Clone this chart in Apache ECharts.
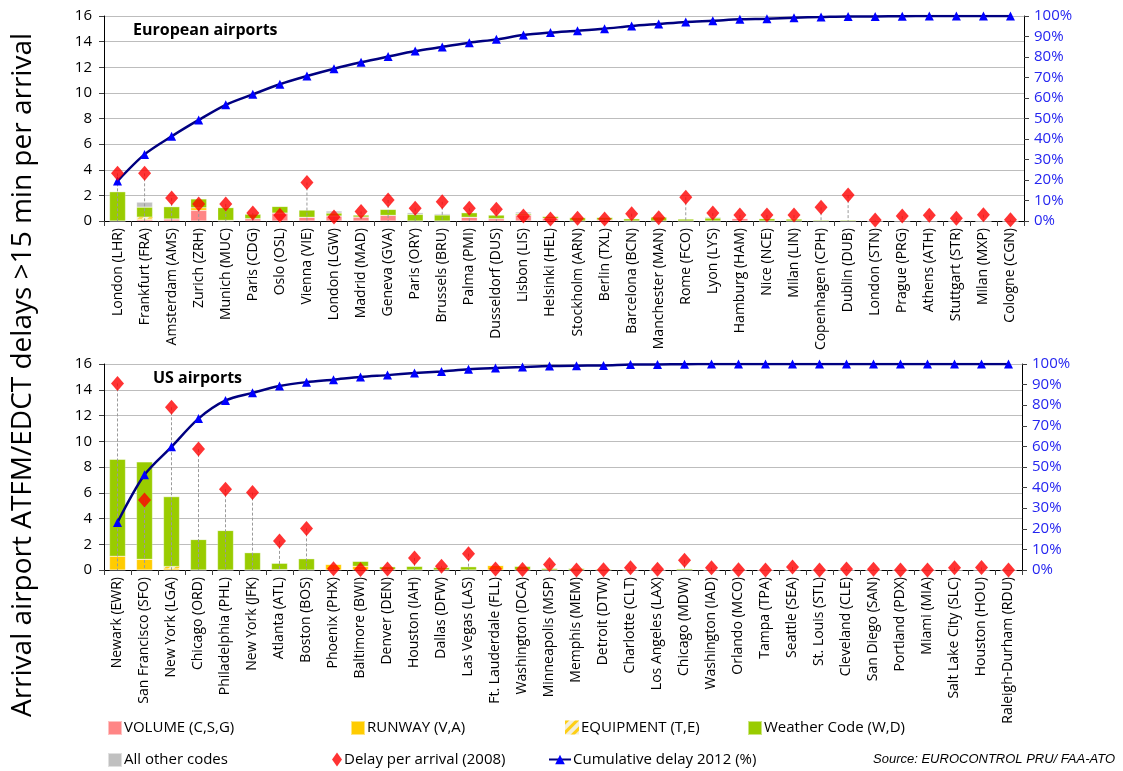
<!DOCTYPE html>
<html>
<head>
<meta charset="utf-8">
<script src="https://cdn.jsdelivr.net/npm/echarts@6/dist/echarts.min.js"></script>
<style>html,body{margin:0;padding:0;background:#fff}#c{width:1123px;height:771px}</style>
</head>
<body>
<div id="c"></div>
<script>
// ---------- DATA ----------
const euAirports = ['London (LHR)','Frankfurt (FRA)','Amsterdam (AMS)','Zurich (ZRH)','Munich (MUC)','Paris (CDG)','Oslo (OSL)','Vienna (VIE)','London (LGW)','Madrid (MAD)','Geneva (GVA)','Paris (ORY)','Brussels (BRU)','Palma (PMI)','Dusseldorf (DUS)','Lisbon (LIS)','Helsinki (HEL)','Stockholm (ARN)','Berlin (TXL)','Barcelona (BCN)','Manchester (MAN)','Rome (FCO)','Lyon (LYS)','Hamburg (HAM)','Nice (NCE)','Milan (LIN)','Copenhagen (CPH)','Dublin (DUB)','London (STN)','Prague (PRG)','Athens (ATH)','Stuttgart (STR)','Milan (MXP)','Cologne (CGN)'];
const euVolume    = [0,0.1,0.16,0.83,0,0.18,0.62,0.29,0.39,0.31,0.44,0,0,0.29,0.18,0.47,0.2,0,0.08,0,0,0,0,0.2,0,0,0,0,0,0,0,0,0,0];
const euRunway    = [0,0.08,0,0.2,0.05,0,0,0,0,0,0,0,0,0,0,0,0,0,0,0,0,0,0,0,0,0,0,0,0,0,0,0,0,0];
const euEquipment = [0,0.12,0,0,0,0,0,0,0,0,0,0,0,0,0,0,0,0,0,0,0,0,0,0,0,0,0,0,0,0,0,0,0,0];
const euWeather   = [2.29,0.78,0.96,0.7,1.0,0.36,0.52,0.57,0.23,0.16,0.47,0.52,0.47,0.36,0.29,0.1,0.16,0.27,0.2,0.18,0.31,0.16,0.23,0.03,0.18,0.16,0.08,0.08,0.02,0.02,0.02,0,0,0];
const euOther     = [0,0.39,0,0,0,0,0,0,0.16,0,0,0.13,0.1,0,0,0.13,0.03,0.03,0.03,0,0.02,0,0.08,0,0.05,0,0,0,0,0,0,0,0,0];
const euDelay2008 = [3.72,3.72,1.8,1.33,1.33,0.63,0.44,3.0,0.31,0.75,1.64,0.99,1.5,0.99,0.91,0.39,0.16,0.21,0.16,0.57,0.26,1.85,0.62,0.47,0.47,0.47,1.07,2.02,0.08,0.39,0.44,0.21,0.49,0.1];
const euCumul2012 = [19.5,32.5,41.3,49.3,56.7,61.8,66.7,70.7,74.3,77.4,80.2,82.9,84.9,87.0,88.6,90.7,91.9,92.8,93.8,95.1,96.1,97.1,97.7,98.4,98.7,99.2,99.5,99.8,99.8,99.9,100,100,100,100];

const usAirports = ['Newark (EWR)','San Francisco (SFO)','New York (LGA)','Chicago (ORD)','Philadelphia (PHL)','New York (JFK)','Atlanta (ATL)','Boston (BOS)','Phoenix (PHX)','Baltimore (BWI)','Denver (DEN)','Houston (IAH)','Dallas (DFW)','Las Vegas (LAS)','Ft. Lauderdale (FLL)','Washington (DCA)','Minneapolis (MSP)','Memphis (MEM)','Detroit (DTW)','Charlotte (CLT)','Los Angeles (LAX)','Chicago (MDW)','Washington (IAD)','Orlando (MCO)','Tampa (TPA)','Seattle (SEA)','St. Louis (STL)','Cleveland (CLE)','San Diego (SAN)','Portland (PDX)','Miami (MIA)','Salt Lake City (SLC)','Houston (HOU)','Raleigh-Durham (RDU)'];
const usVolume    = [0,0,0,0,0,0,0,0,0,0,0,0,0,0,0,0,0,0,0,0,0,0,0,0,0,0,0,0,0,0,0,0,0,0];
const usRunway    = [1.07,0.83,0.12,0,0,0,0.03,0,0.44,0.29,0.03,0,0,0,0.36,0,0,0,0,0,0,0,0,0,0,0,0,0,0,0,0,0,0,0];
const usEquipment = [0,0,0.15,0,0,0,0,0,0,0,0,0,0,0,0,0,0,0,0,0,0,0,0,0,0,0,0,0,0,0,0,0,0,0];
const usWeather   = [7.54,7.57,5.43,2.37,3.07,1.35,0.5,0.88,0.03,0.39,0.23,0.29,0.2,0.26,0,0.29,0.13,0.13,0.08,0.03,0.02,0.1,0.03,0.02,0,0.03,0,0,0,0,0,0,0,0];
const usOther     = [0,0,0,0,0,0,0,0,0,0,0,0,0,0,0,0,0,0,0,0,0,0,0,0,0,0,0,0,0,0,0,0,0,0];
const usDelay2008 = [14.49,5.44,12.64,9.39,6.27,6.01,2.26,3.23,0.1,0.03,0.08,0.94,0.29,1.27,0.08,0.03,0.42,0,0.02,0.18,0.05,0.75,0.18,0.02,0,0.23,0,0.08,0.05,0,0,0.18,0.2,0];
const usCumul2012 = [23.1,46.2,59.8,73.5,82.3,86.0,89.3,91.2,92.4,93.7,94.6,95.6,96.4,97.4,98.0,98.5,99.0,99.2,99.3,99.7,99.8,99.9,100,100,100,100,100,100,100,100,100,100,100,100];

const leftTicks = {min:0, max:16, interval:2};
const rightTicks = {min:0, max:100, interval:10};

// ---------- CHART ----------
const FONT = "'Liberation Sans Narrow', 'Open Sans', sans-serif";
const C = {vol:'#ff8585', run:'#ffcc00', eq:'#f2eedc', wx:'#99cc00', oth:'#c0c0c0', dia:'#ff0000', line:'#000080', tri:'#0000ff', axisBlue:'#2525f0'};
const equipDecal = {symbol:'rect', symbolSize:1, dashArrayX:[[1,0]], dashArrayY:[3,4], rotation:-Math.PI/4, color:'rgba(255,204,0,0.9)'};

const chart = echarts.init(document.getElementById('c'), null, {renderer:'canvas'});

function grids(){
  return [
    {left:104, right:99, top:16, height:205, containLabel:false},
    {left:104, right:101, top:364, height:206, containLabel:false}
  ];
}
function xAx(i, cats){
  return {type:'category', gridIndex:i, data:cats, boundaryGap:true,
    axisLine:{show:true, lineStyle:{color:'#000', width:1}},
    axisTick:{show:true, length:5, lineStyle:{color:'#404040'}},
    axisLabel:{rotate:90, fontSize:14, color:'#000', fontFamily:FONT, margin:7, interval:0},
    splitLine:{show:false}};
}
function yLeft(i){
  return Object.assign({type:'value', gridIndex:i, position:'left'}, leftTicks, {
    axisLine:{show:true, lineStyle:{color:'#000'}},
    axisTick:{show:true, length:5, lineStyle:{color:'#404040'}},
    axisLabel:{fontSize:15, color:'#000', fontFamily:FONT, margin:12},
    splitLine:{show:true, lineStyle:{color:'#bdbdbd', width:1}}});
}
function yRight(i){
  return Object.assign({type:'value', gridIndex:i, position:'right'}, rightTicks, {
    axisLine:{show:true, lineStyle:{color:'#000'}},
    axisTick:{show:true, length:5, inside:false, lineStyle:{color:'#404040'}},
    axisLabel:{fontSize:15, color:C.axisBlue, fontFamily:FONT, margin:10, formatter:'{value}%'},
    splitLine:{show:false}});
}

function barSeries(name, data, color, gi, stack, extra){
  return Object.assign({name, type:'bar', stack, xAxisIndex:gi, yAxisIndex:gi*2, data,
    barWidth:16, itemStyle:{color, borderColor:'rgba(255,255,255,0.5)', borderWidth:0.5}, z:2}, extra||{});
}
function dropSeries(data, gi){
  return {type:'custom', xAxisIndex:gi, yAxisIndex:gi*2, z:3, silent:true,
    data:data.map((v,i)=>[i,v]), encode:{x:0,y:1},
    renderItem:function(params, api){
      const t = api.coord([api.value(0), api.value(1)]);
      const b = api.coord([api.value(0), 0]);
      return {type:'line', shape:{x1:t[0], y1:t[1], x2:b[0], y2:b[1]},
        style:{stroke:'#9a9a9a', lineWidth:1, lineDash:[3,2]}};
    }};
}
function diamondSeries(data, gi){
  return {name:'Delay per arrival (2008)', type:'scatter', xAxisIndex:gi, yAxisIndex:gi*2, data,
    symbol:'diamond', symbolSize:[13,15], itemStyle:{color:C.dia}, z:5};
}
function cumSeries(data, gi){
  return {name:'Cumulative delay 2012 (%)', type:'line', xAxisIndex:gi, yAxisIndex:gi*2+1, data,
    smooth:0.3, symbol:'triangle', symbolSize:9,
    lineStyle:{color:C.line, width:2.5}, itemStyle:{color:C.tri}, z:4};
}

function allSeries(gi, vol, run, eq, wx, oth, delay, cum){
  const s = 'st'+gi;
  return [
    barSeries('VOLUME (C,S,G)', vol, C.vol, gi, s),
    barSeries('RUNWAY (V,A)', run, C.run, gi, s),
    barSeries('EQUIPMENT (T,E)', eq, C.eq, gi, s, {itemStyle:{color:C.eq, decal:equipDecal}}),
    barSeries('Weather Code (W,D)', wx, C.wx, gi, s),
    barSeries('All other codes', oth, C.oth, gi, s),
    dropSeries(delay, gi),
    cumSeries(cum, gi),
    diamondSeries(delay, gi)
  ];
}

function leg(name, left, top, icon, w, h){
  const item = icon ? {name, icon} : {name};
  return {data:[item], left, top, padding:0, itemWidth:w, itemHeight:h, itemGap:0, selectedMode:false,
    textStyle:{fontSize:15, color:'#000', fontFamily:FONT, padding:[0,0,0,-3]}};
}

const option = {
  animation:false,
  backgroundColor:'#fff',
  aria:{enabled:true, decal:{show:false}},
  title:[
    {text:'European airports', left:128, top:17, textStyle:{fontSize:16, fontWeight:'bold', color:'#000', fontFamily:"'Open Sans', sans-serif"}},
    {text:'US airports', left:148, top:365, textStyle:{fontSize:16, fontWeight:'bold', color:'#000', fontFamily:"'Open Sans', sans-serif"}}
  ],
  grid:grids(),
  xAxis:[xAx(0, euAirports), xAx(1, usAirports)],
  yAxis:[yLeft(0), yRight(0), yLeft(1), yRight(1)],
  legend:[
    leg('VOLUME (C,S,G)', 107, 720, 'rect', 14, 14),
    leg('RUNWAY (V,A)', 350, 720, 'rect', 14, 14),
    leg('EQUIPMENT (T,E)', 565, 720, 'rect', 14, 14),
    leg('Weather Code (W,D)', 747, 720, 'rect', 14, 14),
    leg('All other codes', 107, 752, 'rect', 14, 14),
    leg('Delay per arrival (2008)', 332, 752, 'diamond', 10, 14),
    leg('Cumulative delay 2012 (%)', 548, 752, null, 22, 12)
  ],
  graphic:[
    {type:'text', x:23, y:375, rotation:Math.PI/2,
      style:{text:'Arrival airport ATFM/EDCT delays >15 min per arrival', font:"28px 'Open Sans', sans-serif", fill:'#000', textAlign:'center', textVerticalAlign:'middle'}},
    {type:'text', right:8, top:753,
      style:{text:'Source: EUROCONTROL PRU/ FAA-ATO', font:"italic 13px 'Liberation Sans Narrow', sans-serif", fill:'#000'}}
  ],
  series:[].concat(
    allSeries(0, euVolume, euRunway, euEquipment, euWeather, euOther, euDelay2008, euCumul2012),
    allSeries(1, usVolume, usRunway, usEquipment, usWeather, usOther, usDelay2008, usCumul2012)
  )
};
chart.setOption(option);
</script>
</body>
</html>
